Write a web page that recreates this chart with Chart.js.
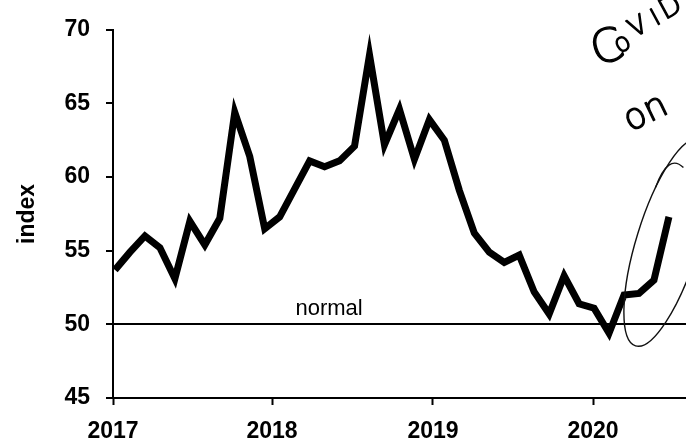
<!DOCTYPE html>
<html>
<head>
<meta charset="utf-8">
<script src="https://cdn.jsdelivr.net/npm/chart.js@4"></script>
<style>
  html, body { margin: 0; padding: 0; background: #fff; }
  #wrap { width: 686px; height: 442px; }
</style>
</head>
<body>
<div id="wrap"><canvas id="chartIndex"></canvas></div>
<script>
// monthly index, Jan 2017 .. Feb 2020
const indexValues = [
    53.7, 54.9, 56.0, 55.2, 53.1, 57.0, 55.4, 57.2, 64.4, 61.4, 56.5, 57.3,
    59.2, 61.1, 60.7, 61.1, 62.1, 68.3, 62.2, 64.6, 61.2, 63.9, 62.5, 59.1,
    56.2, 54.9, 54.2, 54.7, 52.2, 50.7, 53.3, 51.4, 51.1, 49.4, 52.0, 52.1,
    53.0, 57.3
];
const yearLabels = ["2017", "2018", "2019", "2020"];
const yearTickAt = [-0.13, 10.49, 21.24, 31.93];   // month index where the year ticks sit
const normalLevel = 50;

const tickFont = { family: "'Liberation Sans', Arial", size: 23, weight: 'bold' };

function buildPoints() {
    return indexValues.map((v, i) => ({ x: i, y: v }));
}

// one pen letter, rotated about its own baseline start
function penLetter(ctx, ch, px, py, size, rot) {
    ctx.save();
    ctx.translate(px, py);
    ctx.rotate(rot);
    ctx.font = "200 " + size + "px 'DejaVu Sans', sans-serif";
    ctx.lineWidth = 1.3;
    ctx.lineJoin = 'round';
    ctx.fillText(ch, 0, 0);
    ctx.strokeText(ch, 0, 0);
    ctx.restore();
}

const notes = {
    id: 'notes',
    afterDatasetsDraw(chart) {
        const ctx = chart.ctx;
        const x = chart.scales.x, y = chart.scales.y;
        ctx.save();

        // "normal" label over the 50 line
        ctx.fillStyle = '#000';
        ctx.font = "22px 'Liberation Sans', Arial";
        ctx.textAlign = 'center';
        ctx.textBaseline = 'alphabetic';
        ctx.fillText('normal', x.getPixelForValue(14.3), y.getPixelForValue(normalLevel) - 9);

        // hand-drawn ring round the last months
        const cx = x.getPixelForValue(36.9), cy = y.getPixelForValue(55.55);
        ctx.strokeStyle = '#111';
        ctx.lineWidth = 1.4;
        ctx.beginPath();
        ctx.ellipse(cx, cy, 31, 108, 0.3, 0, Math.PI * 2);
        ctx.stroke();
        ctx.beginPath();
        ctx.moveTo(cx - 12, cy - 55);
        ctx.quadraticCurveTo(cx + 1, cy - 90, cx + 16, cy - 75);
        ctx.stroke();

        // handwritten note
        ctx.textAlign = 'left';
        ctx.strokeStyle = '#000';
        penLetter(ctx, 'C', 596, 66, 46, -0.3);
        penLetter(ctx, 'o', 619, 54, 26, -0.5);
        penLetter(ctx, 'V', 634, 38, 26, -0.5);
        penLetter(ctx, 'I', 656, 26, 24, -0.5);
        penLetter(ctx, 'D', 665, 20, 28, -0.5);
        penLetter(ctx, 'on', 630, 132, 36, -0.45);

        ctx.restore();
    }
};

const config = {
    type: 'line',
    data: {
        datasets: [{
            data: buildPoints(),
            borderColor: '#000',
            borderWidth: 7,
            borderJoinStyle: 'miter',
            pointRadius: 0,
            tension: 0,
            fill: false
        }]
    },
    options: {
        animation: false,
        responsive: true,
        maintainAspectRatio: false,
        layout: { padding: { top: 21, right: 0, left: 0, bottom: 0 } },
        plugins: {
            legend: { display: false },
            tooltip: { enabled: false }
        },
        scales: {
            x: {
                type: 'linear',
                min: -0.134,
                max: 38.14,
                afterBuildTicks(scale) {
                    scale.ticks = yearTickAt.map(v => ({ value: v }));
                },
                afterFit(scale) { scale.height = 44; },
                ticks: {
                    autoSkip: false,
                    maxRotation: 0,
                    color: '#000',
                    font: tickFont,
                    padding: 13,
                    callback(value, i) { return yearLabels[i]; }
                },
                grid: {
                    drawOnChartArea: false,
                    drawTicks: true,
                    tickLength: 7,
                    tickColor: '#000',
                    tickWidth: 2
                },
                border: { display: true, color: '#000', width: 2 }
            },
            y: {
                min: 45,
                max: 70,
                afterFit(scale) { scale.width = 113; },
                ticks: {
                    stepSize: 5,
                    color: '#000',
                    font: tickFont,
                    padding: 16
                },
                grid: {
                    color(c) { return c.tick && c.tick.value === normalLevel ? '#000' : 'rgba(0,0,0,0)'; },
                    lineWidth: 2,
                    tickLength: 7,
                    tickColor: '#000',
                    tickWidth: 2
                },
                border: { display: true, color: '#000', width: 2 },
                title: {
                    display: true,
                    text: 'index',
                    color: '#000',
                    font: tickFont,
                    padding: { top: 14, bottom: 20 }
                }
            }
        }
    },
    plugins: [notes]
};

new Chart(document.getElementById('chartIndex').getContext('2d'), config);
</script>
</body>
</html>
